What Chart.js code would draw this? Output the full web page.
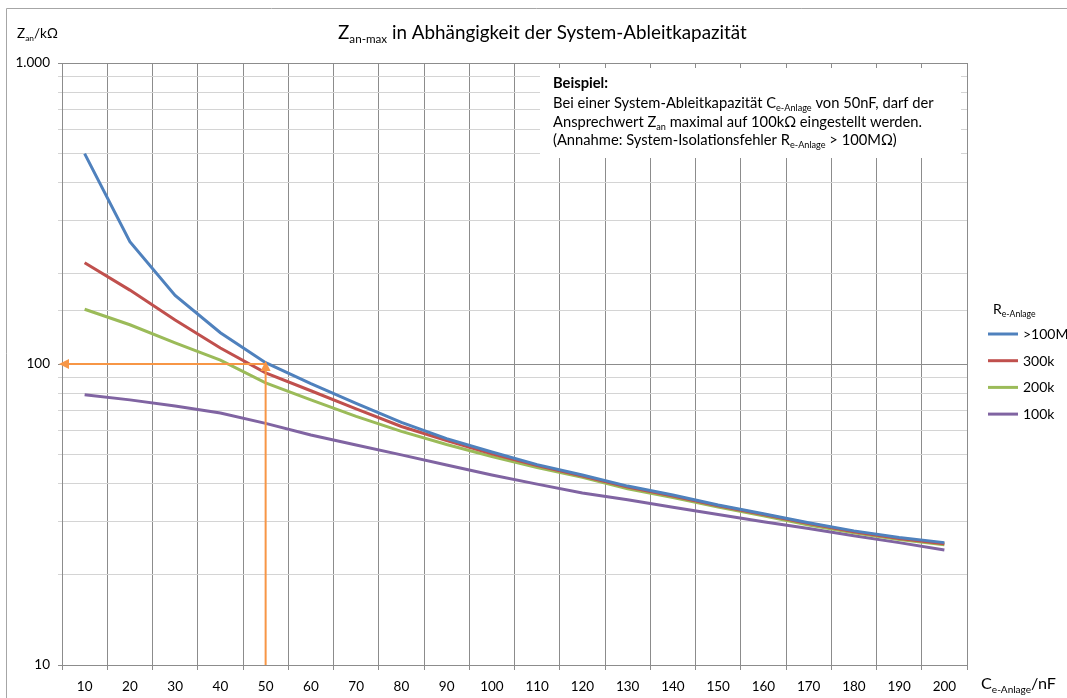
<!DOCTYPE html>
<html><head><meta charset="utf-8">
<script src="https://cdn.jsdelivr.net/npm/chart.js@4.4.0/dist/chart.umd.min.js"></script>
<style>html,body{margin:0;padding:0;background:#fff;overflow:hidden}</style>
</head><body>
<canvas id="c" width="1067" height="698" style="display:block;width:1067px;height:698px"></canvas>
<script>
// ---- data ----
const categories = ['10','20','30','40','50','60','70','80','90','100','110','120','130','140','150','160','170','180','190','200'];
const seriesNames = ['>100M','300k','200k','100k'];
const z100M = [500,255,169,127,101,86,74,64,56.5,51,46.3,42.8,39.3,36.7,34.0,31.8,29.7,27.9,26.5,25.5];
const z300k = [217,176,140,113,93.5,81.5,71,62,55.7,50.3,46,42.4,39,36.4,33.8,31.6,29.5,27.7,26.3,25.3];
const z200k = [152,135,117.5,103,86.5,76,67,59.7,54,49.3,45.3,42,38.5,36,33.5,31.3,29.2,27.5,26.1,25.1];
const z100k = [79,76,72.5,68.7,63.5,58.1,53.8,49.9,46.2,42.8,39.9,37.3,35.4,33.4,31.6,29.9,28.4,26.9,25.5,24.1];
const yTickLabels = {10:'10', 100:'100', 1000:'1.000'};
const exampleC = '50';
const exampleZ = 100;
const colors = ['#4F81BD','#C0504D','#9BBB59','#8064A2'];
const arrowColor = '#F79646';
const FONT = 'Lato, "Open Sans", sans-serif';

function partsWidth(ctx, parts, size) {
  let w = 0;
  for (const p of parts) {
    ctx.font = (p.b ? 'bold ' : '') + (p.s ? size * 0.62 : size) + 'px ' + FONT;
    w += ctx.measureText(p.t).width;
  }
  return w;
}
function drawRich(ctx, x, y, parts, size, align) {
  const w = partsWidth(ctx, parts, size);
  let cx = align === 'center' ? x - w / 2 : (align === 'right' ? x - w : x);
  ctx.textAlign = 'left';
  ctx.textBaseline = 'alphabetic';
  ctx.fillStyle = '#000';
  for (const p of parts) {
    ctx.font = (p.b ? 'bold ' : '') + (p.s ? size * 0.62 : size) + 'px ' + FONT;
    ctx.fillText(p.t, cx, y + (p.s ? size * 0.22 : 0));
    cx += ctx.measureText(p.t).width;
  }
}
function fitSize(ctx, parts, target, base) {
  return base * target / partsWidth(ctx, parts, base);
}

const decor = {
  id: 'decor',
  beforeDatasetsDraw(chart) {
    const ctx = chart.ctx;
    ctx.save();
    ctx.fillStyle = '#fff';
    ctx.fillRect(540, 68, 421, 90);
    ctx.restore();
  },
  afterDatasetsDraw(chart) {
    const ctx = chart.ctx;
    const xs = chart.scales.x, ys = chart.scales.y, ca = chart.chartArea;
    ctx.save();
    // example arrows
    const px = xs.getPixelForValue(categories.indexOf(exampleC));
    const py = ys.getPixelForValue(exampleZ);
    ctx.strokeStyle = arrowColor; ctx.fillStyle = arrowColor; ctx.lineWidth = 2;
    ctx.beginPath(); ctx.moveTo(px, ca.bottom); ctx.lineTo(px, py + 6); ctx.stroke();
    ctx.beginPath(); ctx.moveTo(px, py - 3); ctx.lineTo(px - 5, py + 7); ctx.lineTo(px + 5, py + 7); ctx.closePath(); ctx.fill();
    ctx.beginPath(); ctx.moveTo(px, py); ctx.lineTo(ca.left + 4, py); ctx.stroke();
    ctx.beginPath(); ctx.moveTo(ca.left - 3, py); ctx.lineTo(ca.left + 7, py - 5); ctx.lineTo(ca.left + 7, py + 5); ctx.closePath(); ctx.fill();
    ctx.restore();

    ctx.save();
    // title
    const title = [{t:'Z'},{t:'an-max',s:1},{t:' in Abhängigkeit der System-Ableitkapazität'}];
    drawRich(ctx, 338, 39, title, fitSize(ctx, title, 409, 17), 'left');
    // y axis title
    const yt = [{t:'Z'},{t:'an',s:1},{t:'/kΩ'}];
    drawRich(ctx, 17, 38, yt, 13.5, 'left');
    // x axis title
    const xt = [{t:'C'},{t:'e-Anlage',s:1},{t:'/nF'}];
    drawRich(ctx, 981, 689, xt, fitSize(ctx, xt, 75, 14), 'left');
    // example box text
    const l1 = [{t:'Beispiel:',b:1}];
    const l2 = [{t:'Bei einer System-Ableitkapazität C'},{t:'e-Anlage',s:1},{t:' von 50nF, darf der'}];
    const l3 = [{t:'Ansprechwert Z'},{t:'an',s:1},{t:' maximal auf 100kΩ eingestellt werden.'}];
    const l4 = [{t:'(Annahme: System-Isolationsfehler R'},{t:'e-Anlage',s:1},{t:' > 100MΩ)'}];
    const bs = fitSize(ctx, l2, 381, 13);
    drawRich(ctx, 553, 88, l1, bs, 'left');
    drawRich(ctx, 553, 108, l2, bs, 'left');
    drawRich(ctx, 553, 127, l3, bs, 'left');
    drawRich(ctx, 553, 145, l4, bs, 'left');
    // legend
    drawRich(ctx, 993, 314, [{t:'R'},{t:'e-Anlage',s:1}], 14, 'left');
    chart.data.datasets.forEach((ds, i) => {
      const y = 334 + i * 26.7;
      ctx.strokeStyle = ds.borderColor; ctx.lineWidth = 3;
      ctx.beginPath(); ctx.moveTo(988, y); ctx.lineTo(1018, y); ctx.stroke();
      drawRich(ctx, 1023, y + 5, [{t:ds.label}], 14, 'left');
    });
    // outer border
    ctx.strokeStyle = '#A6A6A6'; ctx.lineWidth = 1;
    ctx.beginPath(); ctx.moveTo(6.5, 698); ctx.lineTo(6.5, 8.5); ctx.lineTo(1067, 8.5); ctx.stroke();
    ctx.restore();
  }
};

const ctx = document.getElementById('c').getContext('2d');
new Chart(ctx, {
  type: 'line',
  data: {
    labels: categories,
    datasets: [z100M, z300k, z200k, z100k].map((d, i) => ({
      label: seriesNames[i], data: d, borderColor: colors[i], backgroundColor: colors[i],
      borderWidth: 3, pointRadius: 0, tension: 0, fill: false
    }))
  },
  options: {
    responsive: false, animation: false, devicePixelRatio: 1,
    layout: { padding: { left: 0, top: 63, right: 100, bottom: 0 } },
    plugins: { legend: { display: false }, title: { display: false }, tooltip: { enabled: false } },
    scales: {
      x: {
        type: 'category', offset: true,
        grid: { offset: true, color: '#8C8C8C', lineWidth: 1, tickLength: 5, drawTicks: true },
        border: { color: '#8C8C8C' },
        ticks: { font: { family: FONT, size: 13.5 }, color: '#000', padding: 9, maxRotation: 0, autoSkip: false },
        afterFit(s) { s.height = 33; }
      },
      y: {
        type: 'logarithmic', min: 10, max: 1000,
        grid: {
          color: c => (c.tick && [10,100,1000].includes(c.tick.value)) ? '#8C8C8C' : '#D4D4D4',
          lineWidth: 1, tickLength: 4
        },
        border: { color: '#8C8C8C' },
        ticks: {
          font: { family: FONT, size: 13.5 }, color: '#000', padding: 8, autoSkip: false,
          callback: v => yTickLabels[v] || ''
        },
        afterFit(s) { s.width = 62; }
      }
    }
  },
  plugins: [decor]
});
</script>
</body></html>
